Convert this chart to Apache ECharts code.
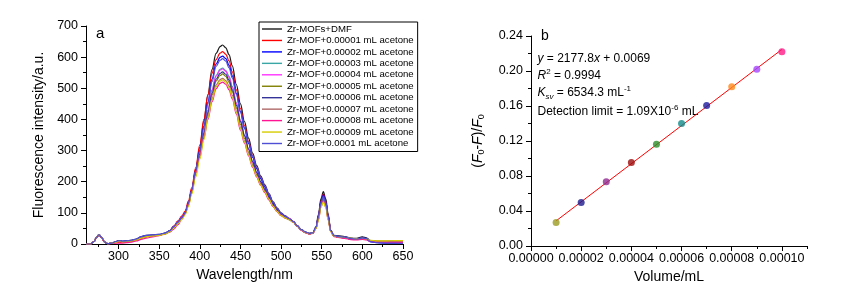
<!DOCTYPE html>
<html><head><meta charset="utf-8">
<script src="https://cdn.jsdelivr.net/npm/echarts@6/dist/echarts.min.js"></script>
<style>html,body{margin:0;padding:0;background:#fff}#c{width:846px;height:287px}</style>
</head><body><div id="c"></div>
<script>
// ---------- Panel a: fluorescence spectra ----------
const wavelengths = [260,266,270,273,276,279,283,287,292,297,301,305,310,316,322,328,334,342,350,357,363,368,373,378,382,386,390,395,400,405,410,415,420,425,428,432,436,440,445,450,455,460,465,470,475,480,485,490,495,500,505,510,515,520,525,530,535,539,543,546,549,552,555,558,561,565,570,578,586,593,600,605,610,618,630,640,650];
const seriesNames = ['Zr-MOFs+DMF','Zr-MOF+0.00001 mL acetone','Zr-MOF+0.00002 mL acetone','Zr-MOF+0.00003 mL acetone','Zr-MOF+0.00004 mL acetone','Zr-MOF+0.00005 mL acetone','Zr-MOF+0.00006 mL acetone','Zr-MOF+0.00007 mL acetone','Zr-MOF+0.00008 mL acetone','Zr-MOF+0.00009 mL acetone','Zr-MOF+0.0001 mL acetone'];
const sDMF   = [0,0,8,22,30,22,6,1,3,8,11,8,10,12,15,22,26,28,30,34,42,55,70,85,100,130,172,240,310,395,480,560,612,634,639,630,608,572,512,450,393,340,292,252,218,190,162,136,116,100,90,82,73,58,46,38,34,36,55,95,145,168,145,95,45,28,26,24,19,18,23,20,11,6,4,4,4];
const s00001 = [0,0,8,21,29,21,5,1,2,5,6,5,6,9,14,19,24,27,29,33,43,58,74,90,106,138,180,245,318,400,478,548,592,613,618,609,588,553,495,435,381,330,284,245,213,186,159,133,114,98,89,81,72,58,45,37,33,35,53,90,138,160,138,90,43,26,23,20,16,15,18,16,10,8,7,7,7];
const s00002 = [0,0,8,22,30,22,6,1,3,7,10,8,9,11,15,22,26,28,30,34,42,56,71,86,101,131,172,236,301,378,456,529,578,599,603,595,574,540,483,425,372,323,278,241,209,183,156,131,112,97,88,81,72,58,45,37,33,35,53,89,136,158,136,89,42,26,23,20,16,15,17,15,7,4,3,3,2];
const s00003 = [0,0,8,22,30,22,6,1,3,7,10,8,9,11,14,21,25,28,30,34,42,55,70,85,99,128,168,232,292,361,430,495,541,561,565,557,538,506,453,398,350,305,263,229,199,175,150,127,109,94,86,79,71,57,45,37,33,35,52,85,129,150,129,85,42,26,23,20,16,16,18,16,10,8,7,7,7];
const s00004 = [0,0,8,22,30,22,6,1,3,6,9,7,8,10,13,19,24,27,29,33,41,55,71,86,100,129,169,231,291,359,428,493,539,558,562,554,535,503,451,396,348,303,262,228,198,174,149,126,108,94,87,82,72,57,45,37,33,35,52,84,128,148,128,84,42,26,23,20,16,16,18,16,10,8,7,7,7];
const s00005 = [0,0,8,22,30,22,6,1,3,6,9,7,8,10,13,19,24,27,29,33,40,53,68,83,97,125,163,230,287,352,417,478,523,541,546,538,519,489,437,384,339,295,256,223,194,171,147,124,107,93,85,78,71,57,45,37,33,35,51,82,125,145,125,82,41,25,23,20,17,16,18,16,11,9,9,10,10];
const s00006 = [0,0,8,22,30,22,6,1,3,8,11,9,10,12,16,24,28,29,31,35,42,55,70,85,100,129,170,230,289,355,422,484,529,548,553,545,526,495,445,393,348,305,265,230,200,176,151,128,109,94,86,79,71,57,46,38,34,36,54,88,134,155,134,88,44,27,25,23,18,17,21,18,9,5,3,3,2];
const s00007 = [0,0,8,22,30,22,6,1,3,6,9,7,8,10,13,19,23,26,29,33,41,54,69,84,98,126,165,228,284,346,408,467,510,528,532,525,507,477,427,375,331,289,251,218,191,168,144,122,105,92,84,78,71,57,45,37,33,35,51,80,123,142,123,80,41,25,23,20,17,16,18,16,11,9,9,10,10];
const s00008 = [0,0,8,21,29,21,5,1,2,3,3,3,4,6,10,15,19,23,27,32,38,48,62,80,98,128,168,227,281,340,400,456,498,516,520,513,495,466,417,366,324,283,246,215,188,165,142,121,104,91,83,79,70,57,44,36,32,34,50,78,119,138,119,78,40,24,21,18,14,13,15,13,8,6,5,5,5];
const s00009 = [0,0,8,22,30,22,6,1,3,6,9,7,8,10,13,19,23,26,28,32,39,51,65,80,94,120,160,215,272,335,404,462,505,523,527,520,502,472,422,371,328,286,249,217,189,167,144,122,105,91,84,78,70,57,45,37,33,35,50,76,117,135,117,76,40,25,23,21,18,17,18,16,12,10,10,11,11];
const s0001  = [0,0,8,22,30,22,6,1,3,8,11,9,10,12,16,24,28,29,31,35,42,55,70,85,100,130,171,235,299,375,450,521,570,590,595,587,566,533,480,424,373,326,283,246,214,187,160,134,114,99,89,81,72,58,46,38,34,36,54,86,131,152,131,86,43,27,24,22,17,16,19,17,8,4,3,3,2];
const intensities = [sDMF,s00001,s00002,s00003,s00004,s00005,s00006,s00007,s00008,s00009,s0001];
const waveTicks = [300,350,400,450,500,550,600,650];
const waveMinorTicks = [275,325,375,425,475,525,575,625];

// ---------- Panel b: Stern-Volmer plot ----------
const volumes = [0.00001,0.00002,0.00003,0.00004,0.00005,0.00006,0.00007,0.00008,0.00009,0.0001];
const quench  = [0.0268,0.0497,0.0733,0.0954,0.1164,0.1400,0.1607,0.1820,0.2019,0.2220];
const fitX = [0.00001,0.0001];
const fitY = [0.0287,0.2247];
const volumeTicks = [0,0.00002,0.00004,0.00006,0.00008,0.0001];
const volumeMinorTicks = [0.00001,0.00003,0.00005,0.00007,0.00009,0.00011];

// ---------- styles ----------
const FONT = 'Liberation Sans, Arial, sans-serif';
const lineColors = ['#1a1a1a','#ff0000','#0000ff','#3aa6a6','#ff33ff','#7f7f00','#333399','#b06868','#ff1493','#d6cc00','#4f4fd6'];
const pointColors = ['#9b9b22','#1c1c8e','#8e2a8e','#9b0d0d','#2a8f2a','#138a8a','#1c1c9e','#ff8a1c','#a347ff','#ff1a86'];

const richSS = {
  i: {fontStyle:'italic', fontSize:12, fontFamily:FONT, color:'#000', lineHeight:16},
  sup: {fontSize:8, fontFamily:FONT, color:'#000', lineHeight:9, verticalAlign:'top'},
  sub: {fontSize:8, fontFamily:FONT, color:'#000', lineHeight:9, verticalAlign:'bottom'},
  si: {fontSize:8, fontStyle:'italic', fontFamily:FONT, color:'#000', lineHeight:9, verticalAlign:'bottom'}
};

const axisBase = {
  axisLine:{show:true, onZero:false, lineStyle:{color:'#000', width:1}},
  axisTick:{show:true, inside:false, length:5, lineStyle:{color:'#000'}},
  splitLine:{show:false},
  axisLabel:{color:'#000', fontFamily:FONT, fontSize:12.5},
  nameTextStyle:{color:'#000', fontFamily:FONT, fontSize:14}
};

const chart = echarts.init(document.getElementById('c'), null, {renderer:'canvas'});
const lineSeries = intensities.map((arr, k) => ({
  type:'line', name:seriesNames[k], xAxisIndex:0, yAxisIndex:0,
  data: wavelengths.map((w, i) => [w, arr[i]]),
  symbol:'none', smooth:0.35, smoothMonotone:'x',
  lineStyle:{color:lineColors[k], width:1.2}, itemStyle:{color:lineColors[k]},
  animation:false
}));

chart.setOption({
  animation:false,
  backgroundColor:'#fff',
  grid:[
    {left:86, top:26, width:317, height:218, outerBoundsMode:'none', containLabel:false},
    {left:531, top:36, width:276, height:210, outerBoundsMode:'none', containLabel:false}
  ],
  legend:{
    data:seriesNames, orient:'vertical', left:259, top:22,
    itemWidth:20, itemHeight:10, itemGap:1.45, padding:[2,4,3,3],
    borderColor:'#000', borderWidth:1, backgroundColor:'#fff',
    textStyle:{color:'#000', fontFamily:FONT, fontSize:9.6},
    icon:'path://M0,5 L20,5 L20,6.4 L0,6.4 Z'
  },
  xAxis:[
    Object.assign({}, axisBase, {type:'value', gridIndex:0, min:260, max:650,
      name:'Wavelength/nm', nameLocation:'middle', nameGap:23,
      axisTick:{show:true, length:5, lineStyle:{color:'#000'}, customValues:waveTicks},
      axisLabel:{color:'#000', fontFamily:FONT, fontSize:12.5, margin:6, customValues:waveTicks}}),
    {type:'value', gridIndex:0, min:260, max:650, position:'bottom',
      axisLine:{show:false}, splitLine:{show:false}, axisLabel:{show:false},
      axisTick:{show:true, length:3, lineStyle:{color:'#000'}, customValues:waveMinorTicks}},
    Object.assign({}, axisBase, {type:'value', gridIndex:1, min:0, max:0.00011,
      name:'Volume/mL', nameLocation:'middle', nameGap:22,
      axisTick:{show:true, length:5, lineStyle:{color:'#000'}, customValues:volumeTicks},
      axisLabel:{color:'#000', fontFamily:FONT, fontSize:12.5, margin:6, customValues:volumeTicks,
        formatter:v => Number(v).toFixed(5)}}),
    {type:'value', gridIndex:1, min:0, max:0.00011, position:'bottom',
      axisLine:{show:false}, splitLine:{show:false}, axisLabel:{show:false},
      axisTick:{show:true, length:3, lineStyle:{color:'#000'}, customValues:volumeMinorTicks}}
  ],
  yAxis:[
    Object.assign({}, axisBase, {type:'value', gridIndex:0, min:0, max:700, interval:100,
      name:'Fluorescence intensity/a.u.', nameLocation:'middle', nameGap:40,
      minorTick:{show:true, splitNumber:2, length:3, lineStyle:{color:'#000'}},
      axisLabel:{color:'#000', fontFamily:FONT, fontSize:12.5, margin:8}}),
    Object.assign({}, axisBase, {type:'value', gridIndex:1, min:0, max:0.24, interval:0.04,
      name:'({i|F}{sub|0}-{i|F})/{i|F}{sub|0}', nameLocation:'middle', nameGap:45,
      nameTextStyle:{color:'#000', fontFamily:FONT, fontSize:14, lineHeight:16,
        rich:{i:{fontStyle:'italic', fontSize:14, fontFamily:FONT, color:'#000', lineHeight:16},
              sub:{fontSize:9, fontFamily:FONT, color:'#000', lineHeight:9, verticalAlign:'bottom'}}},
      minorTick:{show:true, splitNumber:2, length:3, lineStyle:{color:'#000'}},
      axisLabel:{color:'#000', fontFamily:FONT, fontSize:12.5, margin:8, formatter:v => Number(v).toFixed(2)}})
  ],
  series: lineSeries.concat([
    {type:'line', xAxisIndex:2, yAxisIndex:1, data:fitX.map((x,i)=>[x, fitY[i]]),
      symbol:'none', lineStyle:{color:'#ff0000', width:1}, animation:false, z:2},
    {type:'scatter', xAxisIndex:2, yAxisIndex:1, symbolSize:7, z:3,
      data:volumes.map((v,i)=>({value:[v, quench[i]], itemStyle:{color:pointColors[i]}})), animation:false}
  ]),
  graphic:[
    {type:'text', x:96, y:34, style:{text:'a', fill:'#000', font:'15px '+FONT, textVerticalAlign:'middle'}},
    {type:'text', x:541, y:36, style:{text:'b', fill:'#000', font:'14px '+FONT, textVerticalAlign:'middle'}},
    {type:'text', x:537.5, y:58.5, style:{text:'{i|y} = 2177.8{i|x} + 0.0069', fill:'#000', font:'12px '+FONT, lineHeight:16, rich:richSS, textVerticalAlign:'middle'}},
    {type:'text', x:537.5, y:75.5, style:{text:'{i|R}{sup|2} = 0.9994', fill:'#000', font:'12px '+FONT, lineHeight:16, rich:richSS, textVerticalAlign:'middle'}},
    {type:'text', x:537.5, y:92.5, style:{text:'{i|K}{si|sv} = 6534.3 mL{sup|-1}', fill:'#000', font:'12px '+FONT, lineHeight:16, rich:richSS, textVerticalAlign:'middle'}},
    {type:'text', x:537.5, y:112, style:{text:'Detection limit = 1.09X10{sup|-6} mL', fill:'#000', font:'12px '+FONT, lineHeight:16, rich:richSS, textVerticalAlign:'middle'}}
  ]
});
</script>
</body></html>
